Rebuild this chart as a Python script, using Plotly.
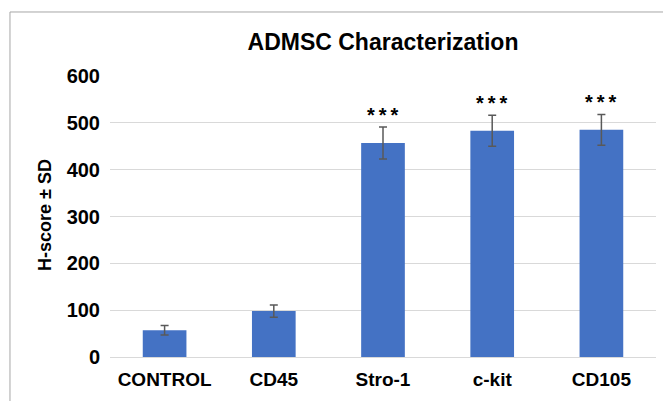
import plotly.graph_objects as go

categories = ["CONTROL", "CD45", "Stro-1", "c-kit", "CD105"]
means = [57, 98, 457, 483, 485]
sds = [10, 13, 34, 33, 33]
stars = ["", "", "***", "***", "***"]
y_ticks = [0, 100, 200, 300, 400, 500, 600]

FONT = "Liberation Sans, Arial"

fig = go.Figure()
fig.add_trace(go.Bar(
    x=categories, y=means,
    marker=dict(color="#4472C4", line=dict(width=0)),
    error_y=dict(type="data", array=sds, visible=True, color="#595959", thickness=1.5, width=4),
    width=0.4,
))

for c, m, s, st in zip(categories, means, sds, stars):
    if st:
        fig.add_annotation(x=c, y=m + s, text="\u2009".join(st), showarrow=False,
                           yanchor="bottom", yshift=-1,
                           font=dict(family=FONT, size=20, color="#000", weight="bold"))

fig.add_annotation(xref="paper", yref="paper", x=(45 - 110) / 546, y=(357 - 215) / 281,
                   text="H-score ± SD", textangle=-90, showarrow=False,
                   xanchor="center", yanchor="middle",
                   font=dict(family=FONT, size=18, color="#000", weight="bold"))

fig.add_shape(type="rect", xref="paper", yref="paper",
              x0=-0.1832, y0=-0.3, x1=1.2, y1=1.2278,
              line=dict(color="#a6a6a6", width=1), fillcolor="rgba(0,0,0,0)", layer="below")

fig.update_layout(
    width=671, height=401,
    margin=dict(l=102, r=23, t=68, b=52, autoexpand=False),
    paper_bgcolor="white", plot_bgcolor="white",
    title=dict(text="ADMSC Characterization", x=0.5, xref="paper", xanchor="center",
               y=1 - 34 / 401, yanchor="middle",
               font=dict(family=FONT, size=23, color="#000", weight="bold")),
    showlegend=False,
    font=dict(family=FONT, color="#000"),
    xaxis=dict(tickfont=dict(size=19, color="#000", weight="bold"), showline=False, showgrid=False,
               ticks="", automargin=False, ticklabelstandoff=9),
    yaxis=dict(range=[0, 600], tickvals=y_ticks, showgrid=True, gridcolor="#d9d9d9", gridwidth=1,
               zeroline=True, zerolinecolor="#d9d9d9", zerolinewidth=1,
               tickfont=dict(size=20, color="#000", weight="bold"),
               ticks="", automargin=False, ticklabelstandoff=9),
)

fig.write_html("out.html")
